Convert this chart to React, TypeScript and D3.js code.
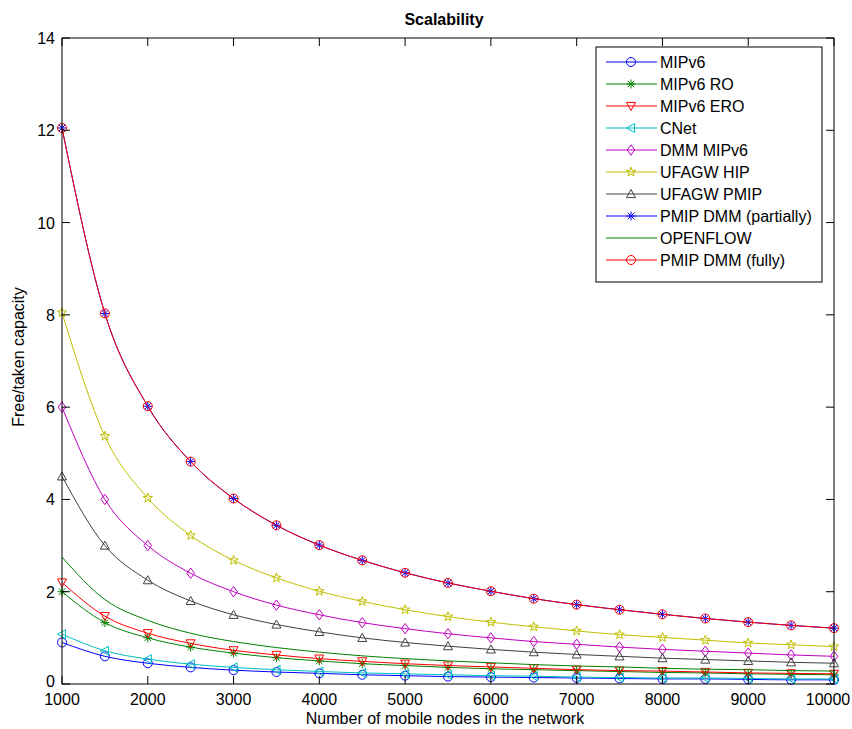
import React, { useEffect, useRef } from "react";
import * as d3 from "d3";

// number of mobile nodes (x)
const nodes = [1000, 1500, 2000, 2500, 3000, 3500, 4000, 4500, 5000, 5500, 6000, 6500, 7000, 7500, 8000, 8500, 9000, 9500, 10000];

const mipv6 = [0.9, 0.6, 0.45, 0.36, 0.3, 0.26, 0.23, 0.2, 0.18, 0.16, 0.15, 0.14, 0.13, 0.12, 0.11, 0.11, 0.1, 0.09, 0.09];
const mipv6Ro = [2.0, 1.33, 1.0, 0.8, 0.67, 0.57, 0.5, 0.44, 0.4, 0.36, 0.33, 0.31, 0.29, 0.27, 0.25, 0.24, 0.22, 0.21, 0.2];
const mipv6Ero = [2.2, 1.47, 1.1, 0.88, 0.73, 0.63, 0.55, 0.49, 0.44, 0.4, 0.37, 0.34, 0.31, 0.29, 0.28, 0.26, 0.24, 0.23, 0.22];
const cnet = [1.08, 0.72, 0.54, 0.43, 0.36, 0.31, 0.27, 0.24, 0.22, 0.2, 0.18, 0.17, 0.15, 0.14, 0.13, 0.13, 0.12, 0.11, 0.11];
const dmmMipv6 = [6.0, 4.0, 3.0, 2.4, 2.0, 1.71, 1.5, 1.33, 1.2, 1.09, 1.0, 0.92, 0.86, 0.8, 0.75, 0.71, 0.67, 0.63, 0.6];
const ufagwHip = [8.05, 5.37, 4.03, 3.22, 2.68, 2.3, 2.01, 1.79, 1.61, 1.46, 1.34, 1.24, 1.15, 1.07, 1.01, 0.95, 0.89, 0.85, 0.81];
const ufagwPmip = [4.5, 3.0, 2.25, 1.8, 1.5, 1.29, 1.13, 1.0, 0.9, 0.82, 0.75, 0.69, 0.64, 0.6, 0.56, 0.53, 0.5, 0.47, 0.45];
const pmipDmmPartial = [12.05, 8.03, 6.02, 4.82, 4.02, 3.44, 3.01, 2.68, 2.41, 2.19, 2.01, 1.85, 1.72, 1.61, 1.51, 1.42, 1.34, 1.27, 1.21];
const openflow = [2.75, 1.83, 1.38, 1.1, 0.92, 0.79, 0.69, 0.61, 0.55, 0.5, 0.46, 0.42, 0.39, 0.37, 0.34, 0.32, 0.31, 0.29, 0.28];
const pmipDmmFull = [12.05, 8.03, 6.02, 4.82, 4.02, 3.44, 3.01, 2.68, 2.41, 2.19, 2.01, 1.85, 1.72, 1.61, 1.51, 1.42, 1.34, 1.27, 1.21];

const xTicks = [1000, 2000, 3000, 4000, 5000, 6000, 7000, 8000, 9000, 10000];
const yTicks = [0, 2, 4, 6, 8, 10, 12, 14];

const series = [
  { name: "MIPv6", values: mipv6, color: "#0000ff", marker: "circle" },
  { name: "MIPv6 RO", values: mipv6Ro, color: "#008000", marker: "asterisk" },
  { name: "MIPv6 ERO", values: mipv6Ero, color: "#ff0000", marker: "triangleDown" },
  { name: "CNet", values: cnet, color: "#00bfbf", marker: "triangleLeft" },
  { name: "DMM MIPv6", values: dmmMipv6, color: "#bf00bf", marker: "diamond" },
  { name: "UFAGW HIP", values: ufagwHip, color: "#bfbf00", marker: "pentagram" },
  { name: "UFAGW PMIP", values: ufagwPmip, color: "#404040", marker: "triangleUp" },
  { name: "PMIP DMM (partially)", values: pmipDmmPartial, color: "#0000ff", marker: "asterisk" },
  { name: "OPENFLOW", values: openflow, color: "#008000", marker: "none" },
  { name: "PMIP DMM (fully)", values: pmipDmmFull, color: "#ff0000", marker: "circle" },
];

const W = 852, H = 729;
const m = { left: 62, right: 834, top: 38, bottom: 684 };
const FONT = "Liberation Sans, Arial, sans-serif";

function markerPath(kind: string, r: number) {
  switch (kind) {
    case "circle":
      return `M${r},0A${r},${r} 0 1,1 ${-r},0A${r},${r} 0 1,1 ${r},0Z`;
    case "asterisk": {
      const d = r * 0.72;
      return `M${-r},0L${r},0M0,${-r}L0,${r}M${-d},${-d}L${d},${d}M${-d},${d}L${d},${-d}`;
    }
    case "triangleDown":
      return `M${-r},${-r * 0.8}L${r},${-r * 0.8}L0,${r}Z`;
    case "triangleUp":
      return `M${-r},${r * 0.8}L${r},${r * 0.8}L0,${-r}Z`;
    case "triangleLeft":
      return `M${r * 0.8},${-r}L${r * 0.8},${r}L${-r},0Z`;
    case "diamond":
      return `M0,${-r * 1.15}L${r * 0.85},0L0,${r * 1.15}L${-r * 0.85},0Z`;
    case "pentagram": {
      const pts: string[] = [];
      for (let i = 0; i < 10; i++) {
        const rr = i % 2 === 0 ? r * 1.1 : r * 0.45;
        const a = -Math.PI / 2 + (i * Math.PI) / 5;
        pts.push(`${rr * Math.cos(a)},${rr * Math.sin(a)}`);
      }
      return "M" + pts.join("L") + "Z";
    }
    default:
      return "";
  }
}

export default function App() {
  const ref = useRef<SVGSVGElement>(null);

  useEffect(() => {
    const svg = d3.select(ref.current);
    svg.selectAll("*").remove();

    const x = d3.scaleLinear().domain([1000, 10000]).range([m.left, m.right]);
    const y = d3.scaleLinear().domain([0, 14]).range([m.bottom, m.top]);

    svg.append("rect").attr("width", W).attr("height", H).attr("fill", "#fff");

    const g = svg.append("g");
    const line = d3
      .line<number>()
      .x((_, i) => x(nodes[i]))
      .y((d) => y(d))
      .curve(d3.curveMonotoneX);

    series.forEach((s) => {
      g.append("path")
        .attr("d", line(s.values))
        .attr("fill", "none")
        .attr("stroke", s.color)
        .attr("stroke-width", 1);
      if (s.marker !== "none") {
        g.selectAll(null)
          .data(s.values)
          .enter()
          .append("path")
          .attr("transform", (d, i) => `translate(${x(nodes[i])},${y(d)})`)
          .attr("d", markerPath(s.marker, 4.5))
          .attr("fill", "none")
          .attr("stroke", s.color)
          .attr("stroke-width", 1);
      }
    });

    // axes box
    svg.append("rect")
      .attr("x", m.left).attr("y", m.top)
      .attr("width", m.right - m.left).attr("height", m.bottom - m.top)
      .attr("fill", "none").attr("stroke", "#000").attr("stroke-width", 1);

    const tl = 8;
    xTicks.forEach((t) => {
      svg.append("line").attr("x1", x(t)).attr("x2", x(t)).attr("y1", m.bottom).attr("y2", m.bottom - tl).attr("stroke", "#000");
      svg.append("line").attr("x1", x(t)).attr("x2", x(t)).attr("y1", m.top).attr("y2", m.top + tl).attr("stroke", "#000");
      const lx = t === 10000 ? x(t) - 6 : x(t);
      svg.append("text").attr("x", lx).attr("y", m.bottom + 21)
        .attr("text-anchor", "middle").attr("font-family", FONT).attr("font-size", 16)
        .text(t);
    });
    yTicks.forEach((t) => {
      svg.append("line").attr("x1", m.left).attr("x2", m.left + tl).attr("y1", y(t)).attr("y2", y(t)).attr("stroke", "#000");
      svg.append("line").attr("x1", m.right).attr("x2", m.right - tl).attr("y1", y(t)).attr("y2", y(t)).attr("stroke", "#000");
      svg.append("text").attr("x", m.left - 7).attr("y", t === 0 ? y(t) + 3 : y(t) + 6)
        .attr("text-anchor", "end").attr("font-family", FONT).attr("font-size", 16)
        .text(t);
    });

    svg.append("text").attr("x", 444).attr("y", 25)
      .attr("text-anchor", "middle").attr("font-family", FONT).attr("font-size", 16)
      .attr("font-weight", "bold").text("Scalability");
    svg.append("text").attr("x", 445).attr("y", 724)
      .attr("text-anchor", "middle").attr("font-family", FONT).attr("font-size", 16)
      .text("Number of mobile nodes in the network");
    svg.append("text")
      .attr("transform", `translate(24,357) rotate(-90)`)
      .attr("text-anchor", "middle").attr("font-family", FONT).attr("font-size", 16)
      .text("Free/taken capacity");

    // legend
    const lg = svg.append("g");
    lg.append("rect").attr("x", 596).attr("y", 47).attr("width", 226).attr("height", 235)
      .attr("fill", "#fff").attr("stroke", "#000");
    series.forEach((s, i) => {
      const ly = 62 + i * 22;
      lg.append("line").attr("x1", 606).attr("x2", 657).attr("y1", ly).attr("y2", ly).attr("stroke", s.color);
      if (s.marker !== "none") {
        lg.append("path").attr("transform", `translate(631,${ly})`).attr("d", markerPath(s.marker, 4.5))
          .attr("fill", "none").attr("stroke", s.color);
      }
      lg.append("text").attr("x", 660).attr("y", ly + 6).attr("font-family", FONT).attr("font-size", 16)
        .text(s.name);
    });
  }, []);

  return (
    <svg ref={ref} width={W} height={H} style={{ position: "absolute", left: 0, top: 0, display: "block" }} />
  );
}
